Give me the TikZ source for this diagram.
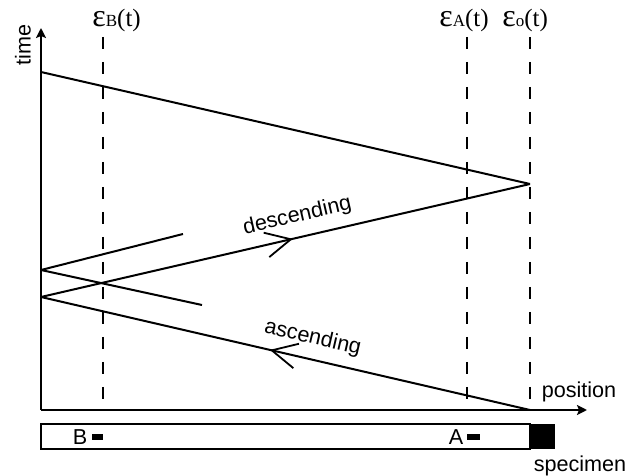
\documentclass[tikz,border=0pt]{standalone}
\usepackage{fontspec}
\setsansfont{Liberation Sans}
\newfontfamily\epsfont{Liberation Serif}
\usetikzlibrary{arrows.meta, decorations.markings}

\begin{document}
\begin{tikzpicture}[x=0.5pt, y=-0.5pt,
  axis/.style={line width=1pt, -{Stealth[length=5pt, width=5pt, inset=1pt]}},
  ray/.style={line width=1pt},
  strain/.style={line width=1pt, dash pattern=on 6pt off 6.5pt},
  lbl/.style={font=\sffamily\fontsize{10.8}{13}\selectfont, inner sep=1pt},
  eps/.style={font=\epsfont\fontsize{12.5}{14}\selectfont, inner sep=0pt, anchor=west},
  gauge/.style={fill=black},
  fwd/.style={postaction={decorate}, decoration={markings,
    mark=at position #1 with {\arrow{Straight Barb[length=12.5pt, width=12.5pt, line width=0.9pt]}}}},
  bwd/.style={postaction={decorate}, decoration={markings,
    mark=at position #1 with {\arrowreversed{Straight Barb[length=12.5pt, width=12.5pt, line width=0.9pt]}}}},
]
\useasboundingbox (0,0) rectangle (628,476);

% --- Axes ---
\coordinate (O) at (41,410);
\coordinate (tmax) at (41,28);
\coordinate (xmax) at (587,410);
\draw[axis] (O) -- (tmax);
\draw[axis] (O) -- (xmax);
\node[lbl, rotate=90] (timelbl) at (23,45) {time};
\node[lbl] (poslbl) at (579,392) {position};

% --- Strain gauge positions ---
\node[eps] (epsB) at (92,20) {{\fontsize{16}{16}\selectfont ε}{\fontsize{8.5}{9}\selectfont B}(t)};
\node[eps] (epsA) at (439,20) {{\fontsize{16}{16}\selectfont ε}{\fontsize{8.5}{9}\selectfont A}(t)};
\node[eps] (epsO) at (502,20) {{\fontsize{16}{16}\selectfont ε}{\fontsize{8.5}{9}\selectfont o}(t)};
\draw[strain] (103,37) coordinate (bTop) -- (103,410) coordinate (bBot);
\draw[strain] (467,37) coordinate (aTop) -- (467,410) coordinate (aBot);
\draw[strain] (530,37) coordinate (oTop) -- (530,410) coordinate (oBot);

% --- Wave fronts ---
\coordinate (t0) at (41,72);
\coordinate (t1) at (41,270);
\coordinate (t2) at (41,297);
\coordinate (apex) at (530,184);
\coordinate (stubU) at (183,234);
\coordinate (stubD) at (202,305);
\draw[ray] (t0) -- (apex);
\draw[ray, fwd=0.515] (t2) -- node[lbl, pos=0.534, sloped, above=4pt] (desc) {descending} (apex);
\draw[ray, bwd=0.468] (t2) -- node[lbl, pos=0.546, sloped, above=4pt] (asc) {ascending} (oBot);
\draw[ray] (t1) -- (stubU);
\draw[ray] (t1) -- (stubD);

% --- Bar and specimen ---
\draw[ray] (41,424) rectangle (530,449);
\fill (530,424) rectangle (555,449);
\node[lbl] (speclbl) at (580,466) {specimen};
\node[lbl] (B) at (80,437) {B};
\fill[gauge] (92,434) rectangle (103,440);
\node[lbl] (A) at (456,437) {A};
\fill[gauge] (467,434) rectangle (480,440);

\end{tikzpicture}
\end{document}
